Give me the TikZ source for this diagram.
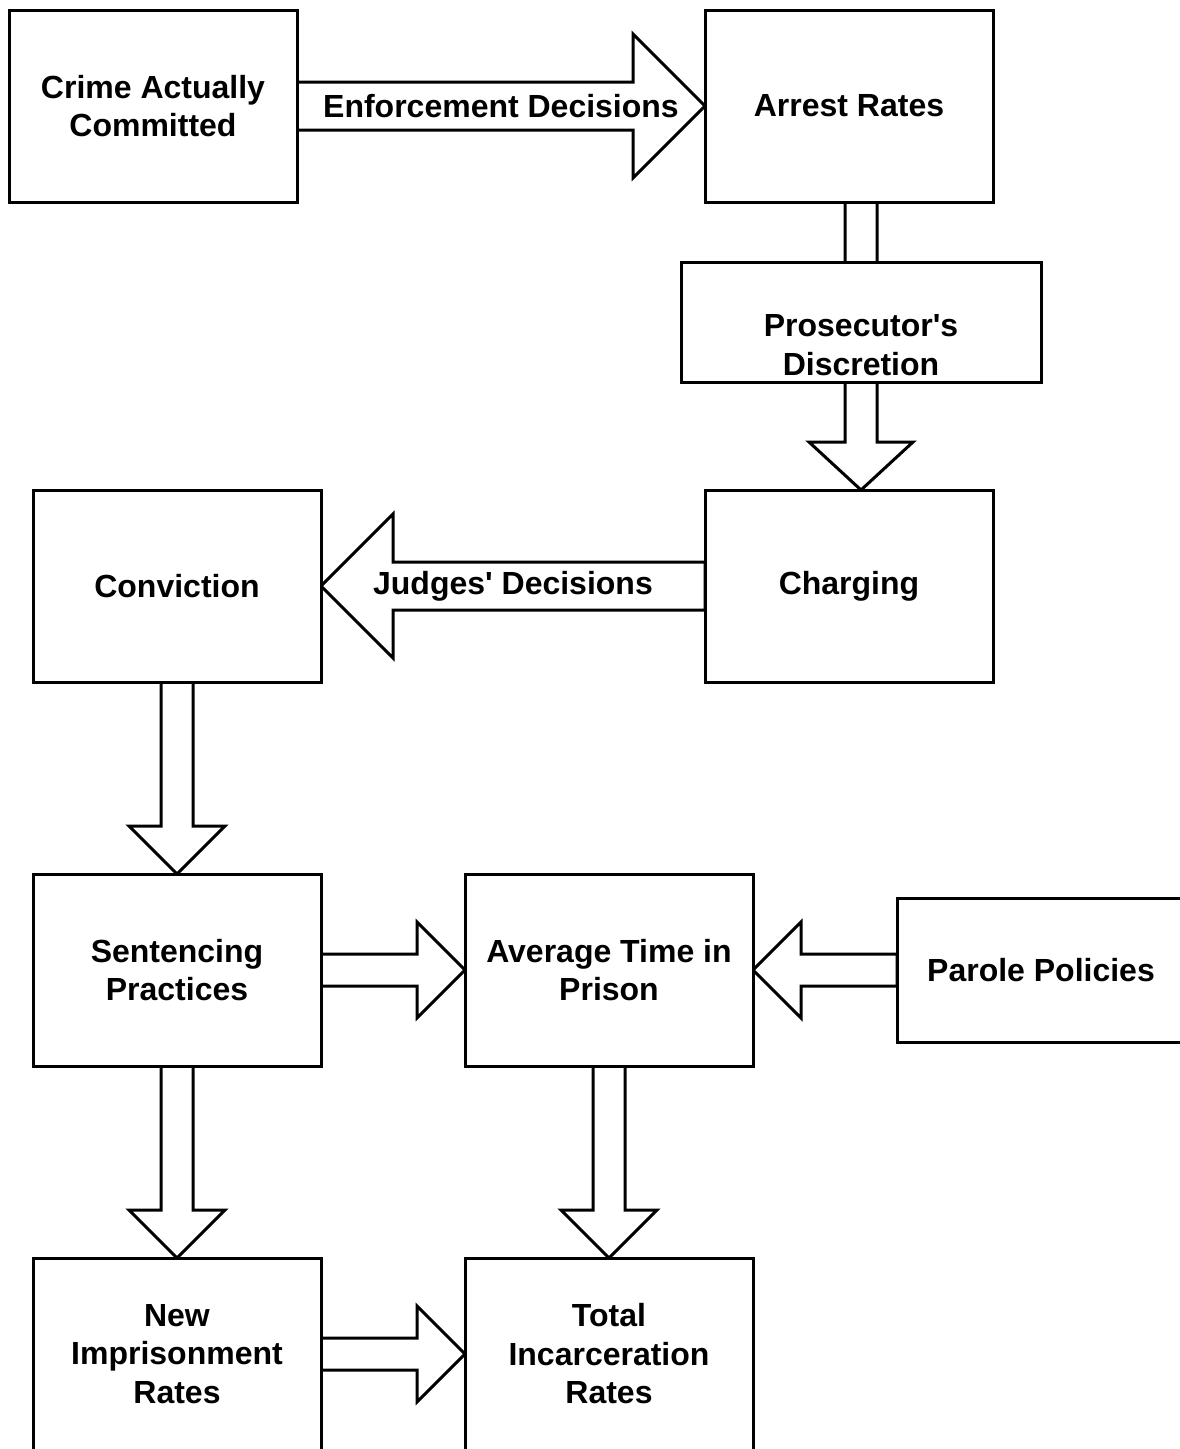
\documentclass[tikz,border=0pt]{standalone}
\usepackage{fontspec}
\setmainfont{Liberation Sans}
\usetikzlibrary{calc,backgrounds}
\tikzset{
  txt/.style={font=\fontsize{32}{38.5}\selectfont\bfseries, align=center},
  box/.style={txt, draw, line width=3pt, fill=white, inner sep=0pt, outer sep=0pt,
    minimum width=288pt, minimum height=192pt},
  lbl/.style={txt, inner sep=0pt},
  blk/.style={draw, line width=3pt, fill=white, line join=miter},
}
\newcommand\blockarr[5]{%
  \coordinate (ba-s) at #1;
  \coordinate (ba-e) at #2;
  \coordinate (ba-h) at ($(ba-e)!#5!(ba-s)$);
  \draw[blk] ($(ba-s)!#3!90:(ba-e)$) -- ($(ba-h)!#3!90:(ba-e)$) -- ($(ba-h)!#4!90:(ba-e)$)
    -- (ba-e) -- ($(ba-h)!#4!-90:(ba-e)$) -- ($(ba-h)!#3!-90:(ba-e)$)
    -- ($(ba-s)!#3!-90:(ba-e)$) -- cycle;}
\begin{document}
\begin{tikzpicture}[x=1pt,y=-1pt]
\useasboundingbox (0,0) rectangle (1180,1449);
\clip (0,0) rectangle (1180,1449);
\node[box] (crime) at (153,106) {Crime Actually\\Committed};
\node[box] (arrest) at (849,106) {Arrest Rates};
\node[box, minimum width=360pt, minimum height=120pt] (pros) at (861,322) {};
\node[lbl] (prostext) at (861,345) {Prosecutor\textquotesingle s\\Discretion};
\node[box] (charging) at (849,586) {Charging};
\node[box] (conviction) at (177,586) {Conviction};
\node[box] (sentencing) at (177,970) {Sentencing\\Practices};
\node[box] (average) at (609,970) {Average Time in\\Prison};
\node[box, minimum height=144pt] (parole) at (1041,970) {Parole Policies};
\node[box] (newimp) at (177,1354) {New\\Imprisonment\\Rates};
\node[box] (total) at (609,1354) {Total\\Incarceration\\Rates};
\begin{pgfonlayer}{background}
\blockarr{(crime.east)}{(arrest.west)}{24pt}{72pt}{72pt}
\blockarr{(pros.center |- arrest.south)}{(pros.center |- charging.north)}{16pt}{52pt}{48pt}
\blockarr{(charging.west)}{(conviction.east)}{24pt}{72pt}{72pt}
\blockarr{(conviction.south)}{(sentencing.north)}{16pt}{48pt}{48pt}
\blockarr{(sentencing.east)}{(average.west)}{16pt}{48pt}{48pt}
\blockarr{(parole.west)}{(average.east)}{16pt}{48pt}{48pt}
\blockarr{(sentencing.south)}{(newimp.north)}{16pt}{48pt}{48pt}
\blockarr{(average.south)}{(total.north)}{16pt}{48pt}{48pt}
\blockarr{(newimp.east)}{(total.west)}{16pt}{48pt}{48pt}
\end{pgfonlayer}
\node[lbl] (enf) at ($(crime.east)!0.5!(arrest.west)$) {Enforcement Decisions};
\node[lbl] (judges) at ($(charging.west)!0.5!(conviction.east)$) {Judges\textquotesingle{} Decisions};
\end{tikzpicture}
\end{document}
